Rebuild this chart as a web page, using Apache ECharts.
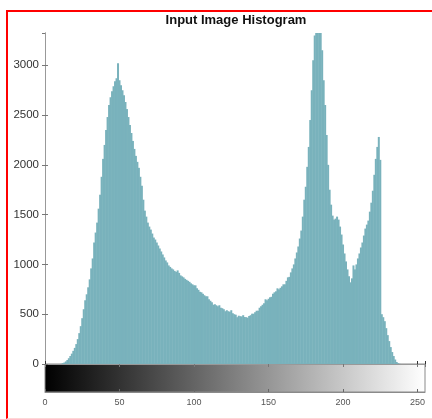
<!DOCTYPE html>
<html>
<head>
<meta charset="utf-8">
<script src="https://cdn.jsdelivr.net/npm/echarts@6/dist/echarts.min.js"></script>
<style>
  html, body { margin: 0; padding: 0; background: #fff; }
  #wrap { position: relative; width: 432px; height: 419px; overflow: hidden; }
  #main { width: 432px; height: 419px; }
  #frame {
    position: absolute; left: 6px; top: 10px; width: 440px; height: 406px;
    border-left: 2px solid #ff0000; border-top: 2px solid #ff0000;
    border-bottom: 1px solid #ffd6d6; pointer-events: none;
  }
</style>
</head>
<body>
<div id="wrap">
  <div id="main"></div>
  <div id="frame"></div>
</div>
<script>
// gray levels 0..255 (bin centres)
const bins = Array.from({ length: 256 }, (_, i) => i);

// pixel counts per gray level
const counts = [
  0, 0, 0, 0, 0, 0, 0, 0, 0, 0, 0, 3, 8, 15, 26, 40,
  58, 80, 104, 132, 162, 200, 250, 310, 380, 460, 550, 640, 700, 770, 850, 960,
  1060, 1220, 1320, 1420, 1560, 1700, 1880, 2060, 2200, 2350, 2480, 2600, 2680, 2740, 2790, 2840,
  2870, 3020, 2850, 2800, 2750, 2700, 2630, 2560, 2480, 2400, 2320, 2240, 2160, 2090, 2030, 1970,
  1880, 1790, 1650, 1540, 1480, 1420, 1380, 1350, 1310, 1270, 1250, 1220, 1190, 1160, 1130, 1100,
  1070, 1040, 1020, 990, 975, 960, 950, 935, 925, 940, 915, 890, 880, 870, 855, 845,
  835, 825, 810, 800, 790, 790, 760, 745, 725, 720, 705, 690, 680, 680, 650, 635,
  620, 595, 600, 590, 580, 590, 565, 560, 550, 530, 540, 530, 525, 540, 510, 500,
  495, 470, 485, 480, 478, 490, 472, 470, 465, 482, 490, 505, 505, 520, 535, 535,
  565, 580, 595, 610, 650, 640, 655, 670, 675, 705, 720, 730, 760, 750, 765, 780,
  800, 800, 835, 870, 875, 920, 960, 1000, 1060, 1120, 1180, 1260, 1340, 1480, 1650, 1780,
  1980, 2180, 2450, 2750, 3050, 3300, 3400, 3450, 3420, 3380, 3150, 2850, 2600, 2300, 2000, 1750,
  1600, 1490, 1450, 1460, 1480, 1450, 1380, 1300, 1200, 1110, 1030, 950, 880, 820, 860, 990,
  950, 1000, 1060, 1110, 1170, 1220, 1290, 1360, 1400, 1440, 1530, 1620, 1740, 1900, 2060, 2180,
  2280, 2050, 500, 470, 430, 360, 290, 230, 170, 120, 80, 45, 20, 8, 2, 0,
  0, 0, 0, 0, 0, 0, 0, 0, 0, 0, 0, 0, 0, 0, 0, 0
];

const yMax = 3324;
const yStep = 500;
const xStep = 50;

const font = "'Liberation Sans', Arial, sans-serif";

const chart = echarts.init(document.getElementById('main'), null, { renderer: 'canvas' });

const option = {
  animation: false,
  backgroundColor: '#fff',
  title: {
    text: 'Input Image Histogram',
    left: 236,
    top: 14,
    padding: 0,
    textAlign: 'center',
    textStyle: { fontFamily: font, fontSize: 13, fontWeight: 'bold', color: '#111' }
  },
  grid: [
    // histogram axes
    { left: 45, top: 33, width: 380, height: 331, show: false },
    // gray colour bar
    {
      left: 45, top: 364, width: 380, height: 28, show: true,
      borderColor: '#8a8a8a', borderWidth: 1,
      backgroundColor: new echarts.graphic.LinearGradient(0, 0, 1, 0, [
        { offset: 0, color: '#000000' },
        { offset: 1, color: '#ffffff' }
      ])
    }
  ],
  xAxis: [
    {
      gridIndex: 0, type: 'value', min: 0, max: 255, interval: xStep,
      axisLine: { lineStyle: { color: '#1a1a1a', width: 1 } },
      axisTick: { inside: true, length: 3, lineStyle: { color: '#333' } },
      axisLabel: { show: false }, splitLine: { show: false }
    },
    {
      gridIndex: 0, type: 'value', position: 'top', min: 0, max: 255, interval: xStep,
      axisLine: { lineStyle: { color: '#999' } },
      axisTick: { inside: true, length: 3, lineStyle: { color: '#777' } },
      axisLabel: { show: false }, splitLine: { show: false }
    },
    {
      gridIndex: 1, type: 'value', min: 0, max: 255, interval: xStep,
      axisLine: { lineStyle: { color: '#8a8a8a' } },
      axisTick: { inside: true, length: 3, lineStyle: { color: '#666' } },
      axisLabel: { margin: 6, fontFamily: font, fontSize: 9, color: '#555' },
      splitLine: { show: false }
    }
  ],
  yAxis: [
    {
      gridIndex: 0, type: 'value', min: 0, max: yMax, interval: yStep,
      axisLine: { show: true, lineStyle: { color: '#999' } },
      axisTick: { show: true, inside: true, length: 3, lineStyle: { color: '#777' } },
      axisLabel: {
        margin: 6, fontFamily: font, fontSize: 11.5, color: '#333', showMaxLabel: false,
        formatter: v => String(v)
      },
      splitLine: { show: false }
    },
    {
      gridIndex: 0, type: 'value', position: 'right', min: 0, max: yMax, interval: yStep,
      axisLine: { show: true, lineStyle: { color: '#999' } },
      axisTick: { show: true, inside: true, length: 3, lineStyle: { color: '#777' } },
      axisLabel: { show: false }, splitLine: { show: false }
    },
    {
      gridIndex: 1, type: 'value', min: 0, max: 1,
      axisLine: { show: false }, axisTick: { show: false },
      axisLabel: { show: false }, splitLine: { show: false }
    }
  ],
  series: [
    {
      name: 'counts',
      type: 'bar',
      xAxisIndex: 0,
      yAxisIndex: 0,
      data: bins.map((b, i) => [b, counts[i]]),
      barWidth: 2,
      itemStyle: { color: '#79b2bc' },
      emphasis: { disabled: true },
      clip: true
    }
  ]
};

chart.setOption(option);
</script>
</body>
</html>
